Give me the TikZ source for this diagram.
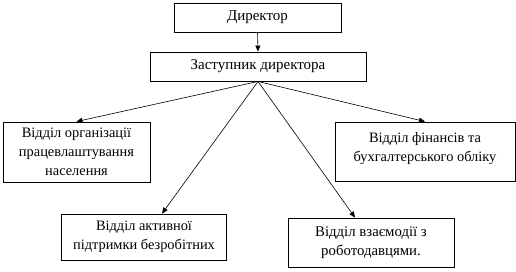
\documentclass[tikz,border=0pt]{standalone}
\usepackage{fontspec}
\setmainfont{Liberation Serif}
\usetikzlibrary{arrows.meta}
\begin{document}
\begin{tikzpicture}[x=1pt,y=-1pt,
  box/.style={draw, line width=0.9pt, inner sep=0pt, align=center,
    font=\fontsize{14.4}{19}\selectfont},
  big/.style={font=\fontsize{15}{19}\selectfont},
  con/.style={line width=0.6pt, -{Triangle[length=6pt,width=5pt]}}]
\useasboundingbox (0,0) rectangle (516,271);
\node[box, big, minimum width=167pt, minimum height=29pt] (dir) at (257.5,17.5) {Директор};
\node[box, big, minimum width=216pt, minimum height=29pt] (dep) at (258,66.5) {Заступник директора};
\node[box, minimum width=147pt, minimum height=60pt] (org) at (76.5,152) {Відділ організації\\працевлаштування\\населення};
\node[box, minimum width=180pt, minimum height=59pt] (fin) at (425,151.5) {Відділ фінансів та\\бухгалтерського обліку\\[-10pt]\mbox{}};
\node[box, minimum width=165pt, minimum height=46pt] (act) at (144,237) {Відділ активної\\підтримки безробітних};
\node[box, font=\fontsize{14.8}{19}\selectfont, minimum width=166pt, minimum height=49pt] (emp) at (371,242.5) {Відділ взаємодії з\\роботодавцями.};
\coordinate (hub) at (dep.south);
\draw[con] (dir.south) -- (dep.north);
\draw[con] (hub) -- (org.north);
\draw[con] (hub) -- (fin.north);
\draw[con] (hub) -- (act.north -| 162,0);
\draw[con] (hub) -- (emp.north -| 355,0);
\end{tikzpicture}
\end{document}
